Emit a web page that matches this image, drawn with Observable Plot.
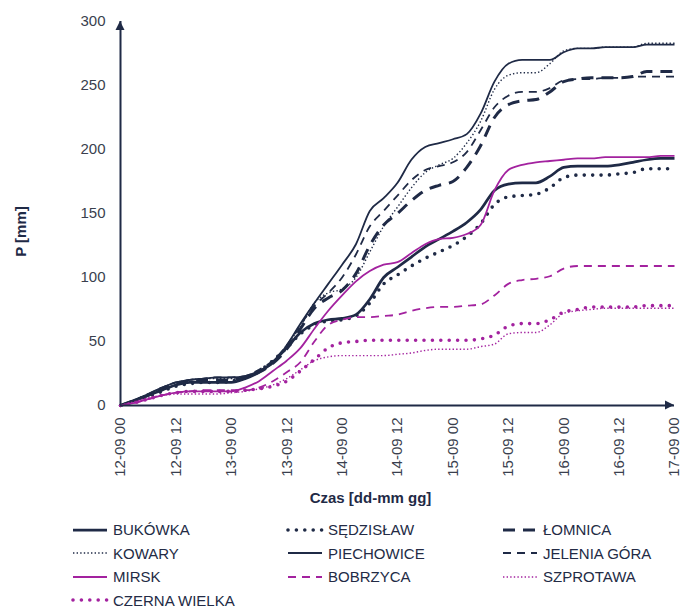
<!DOCTYPE html>
<html>
<head>
<meta charset="utf-8">
<script src="https://cdn.jsdelivr.net/npm/d3@7"></script>
<script src="https://cdn.jsdelivr.net/npm/@observablehq/plot@0.6"></script>
<style>
  body { margin: 0; background: #fff; font-family: "Liberation Sans", Arial, sans-serif; }
  #chart { width: 682px; }
  .legend { display: grid; grid-template-columns: 215px 215px 182px; margin-left: 70px; padding-top: 3px; }
  .legend .item { display: flex; align-items: center; height: 23.5px; font-size: 15px; color: #232b45; white-space: nowrap; }
  .legend svg { flex: none; margin-right: 3px; }
</style>
</head>
<body>
<div id="chart"></div>
<script>
// Hours since 12-09 00:00, sampled every 3 hours
const hours = [0,3,6,9,12,15,18,21,24,27,30,33,36,39,42,45,48,51,54,57,60,63,66,69,72,75,78,81,84,87,90,93,96,99,102,105,108,111,114,117,120];

// Cumulative precipitation P [mm] per station
const bukowka      = [0,4,8,12,16,18,18,18,18,21,26,34,45,57,64,67,68,71,83,100,108,116,124,130,136,143,153,168,173,174,174,179,186,187,187,187,188,190,192,193,193];
const sedzislaw    = [0,3,7,11,15,17,18,18,19,22,27,35,45,56,63,66,67,70,80,95,102,109,115,120,125,132,142,157,163,164,165,170,178,180,180,180,181,182,185,185,185];
const lomnica      = [0,4,8,13,17,19,20,20,20,22,26,33,44,60,76,84,90,103,125,141,150,160,168,172,175,186,203,225,235,238,239,245,253,255,256,256,256,257,261,261,261];
const kowary       = [0,4,9,14,18,20,21,21,21,23,27,34,47,62,80,88,91,100,120,140,155,170,182,188,193,205,222,247,258,260,260,267,277,279,279,280,280,280,283,283,283];
const piechowice   = [0,4,9,14,18,20,21,22,22,23,27,33,47,64,80,95,110,126,152,162,174,192,202,205,208,212,228,253,267,270,270,270,276,279,279,280,280,280,282,282,282];
const jeleniaGora  = [0,4,9,14,18,20,21,22,22,23,28,35,47,63,78,88,100,118,140,152,164,176,184,187,190,198,215,233,242,245,245,248,254,255,255,256,256,257,257,257,257];
const mirsk        = [0,2,5,8,10,11,11,11,11,14,19,27,35,45,60,74,86,97,105,110,112,119,126,130,131,134,141,168,184,188,190,191,192,193,193,194,194,194,194,195,195];
const bobrzyca     = [0,2,5,8,10,11,12,12,12,12,14,19,26,34,50,63,67,69,69,70,71,74,76,77,77,78,79,86,95,98,99,101,107,109,109,109,109,109,109,109,109];
const szprotawa    = [0,3,6,8,9,9,9,9,10,11,13,16,21,28,35,38,39,39,39,39,40,41,43,44,44,44,46,48,56,57,57,63,72,74,75,76,76,76,76,76,76];
const czernaWielka = [0,2,5,8,10,11,11,11,11,12,13,15,19,27,36,45,49,50,51,51,51,51,51,51,51,51,52,55,62,64,64,67,73,75,77,77,77,77,78,78,78];

const stationNames = ["BUKÓWKA","SĘDZISŁAW","ŁOMNICA","KOWARY","PIECHOWICE","JELENIA GÓRA","MIRSK","BOBRZYCA","SZPROTAWA","CZERNA WIELKA"];
const stationValues = [bukowka, sedzislaw, lomnica, kowary, piechowice, jeleniaGora, mirsk, bobrzyca, szprotawa, czernaWielka];

// Axis ticks
const xTickHours = [0,12,24,36,48,60,72,84,96,108,120];
const xTickLabels = ["12-09 00","12-09 12","13-09 00","13-09 12","14-09 00","14-09 12","15-09 00","15-09 12","16-09 00","16-09 12","17-09 00"];
const yTicks = [0,50,100,150,200,250,300];

// Line styles
const NAVY = "#1f2a46";
const MAGENTA = "#a3229f";
const lineStyles = [
  {stroke: NAVY,    width: 2.75, dash: null,      cap: "butt"},
  {stroke: NAVY,    width: 3.6,  dash: "0 8.4",   cap: "round"},
  {stroke: NAVY,    width: 3,    dash: "12 8",    cap: "butt"},
  {stroke: NAVY,    width: 1.4,  dash: "1.4 2.2", cap: "butt"},
  {stroke: NAVY,    width: 1.8,  dash: null,      cap: "butt"},
  {stroke: NAVY,    width: 1.8,  dash: "8 6",     cap: "butt"},
  {stroke: MAGENTA, width: 1.8,  dash: null,      cap: "butt"},
  {stroke: MAGENTA, width: 1.8,  dash: "8 6",     cap: "butt"},
  {stroke: MAGENTA, width: 1.4,  dash: "1.4 2.2", cap: "butt"},
  {stroke: MAGENTA, width: 3.6,  dash: "0 8.4",   cap: "round"}
];

const seriesMarks = stationNames.map((name, i) => {
  const rows = hours.map((h, j) => ({h, p: stationValues[i][j], name}));
  const s = lineStyles[i];
  return Plot.line(rows, {
    x: "h", y: "p",
    stroke: s.stroke, strokeWidth: s.width,
    strokeDasharray: s.dash || undefined,
    strokeLinecap: s.cap, strokeLinejoin: "round",
    curve: "monotone-x"
  });
});

const chart = Plot.plot({
  width: 682,
  height: 515,
  marginLeft: 120,
  marginRight: 8,
  marginTop: 21,
  marginBottom: 110,
  style: {fontFamily: "'Liberation Sans', Arial, sans-serif", fontSize: "15px", color: "#3a3f4e", background: "#fff", overflow: "visible"},
  x: {domain: [0, 120]},
  y: {domain: [0, 300]},
  marks: [
    ...seriesMarks,
    Plot.ruleX([0], {y1: 0, y2: 300, stroke: NAVY, strokeWidth: 2}),
    Plot.ruleY([0], {x1: 0, x2: 120, stroke: NAVY, strokeWidth: 2}),
    Plot.axisY({ticks: yTicks, tickSize: 0, tickPadding: 15, label: null}),
    Plot.axisX({ticks: xTickHours, tickFormat: d => xTickLabels[xTickHours.indexOf(d)], tickRotate: -90, tickSize: 0, tickPadding: 12, label: null}),
    Plot.text(["P [mm]"], {text: d => d, frameAnchor: "left", dx: -99, dy: 18, rotate: -90, textAnchor: "middle", lineAnchor: "middle", fontWeight: "bold", fontSize: 15, fill: NAVY}),
    Plot.text(["Czas [dd-mm gg]"], {text: d => d, frameAnchor: "bottom", dx: -27, dy: 93, textAnchor: "middle", lineAnchor: "middle", fontWeight: "bold", fontSize: 15, fill: NAVY})
  ]
});

// Filled arrowheads at the ends of both axes
const sx = chart.scale("x"), sy = chart.scale("y");
const ox = sx.apply(0), oy = sy.apply(0);
const topY = sy.apply(300), rightX = sx.apply(120);
const svg = d3.select(chart);
svg.append("path")
  .attr("d", `M${ox - 4.5},${topY + 9}L${ox},${topY}L${ox + 4.5},${topY + 9}Z`)
  .attr("fill", NAVY);
svg.append("path")
  .attr("d", `M${rightX - 9},${oy - 4.5}L${rightX},${oy}L${rightX - 9},${oy + 4.5}Z`)
  .attr("fill", NAVY);

const root = document.getElementById("chart");
root.appendChild(chart);

// Legend below the chart: three columns of line samples
const legend = d3.select(root).append("div").attr("class", "legend");
stationNames.forEach((name, i) => {
  const s = lineStyles[i];
  const item = legend.append("div").attr("class", "item");
  const sw = item.append("svg").attr("width", 40).attr("height", 12);
  sw.append("line")
    .attr("x1", 3).attr("x2", 37).attr("y1", 6).attr("y2", 6)
    .attr("stroke", s.stroke).attr("stroke-width", s.width)
    .attr("stroke-dasharray", s.dash)
    .attr("stroke-linecap", s.cap);
  item.append("span").text(name);
});
</script>
</body>
</html>
